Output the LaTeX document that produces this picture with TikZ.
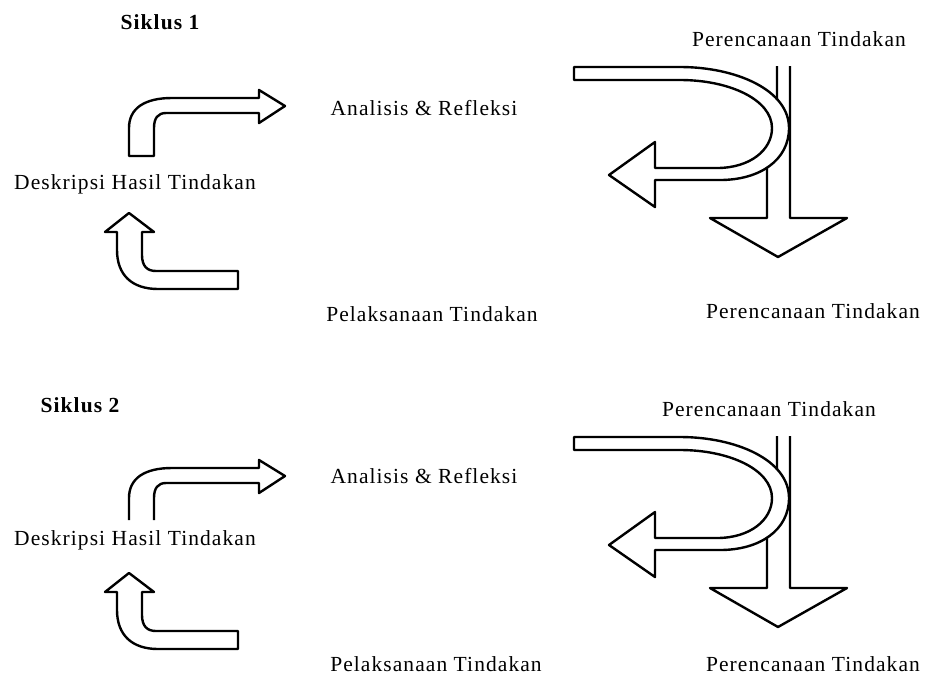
\documentclass[tikz,border=0pt]{standalone}
\usepackage{fontspec}
\setmainfont{Liberation Serif}[LetterSpace=5]
\newcommand{\lblfont}{\fontsize{21.5}{25}\selectfont}
\begin{document}
\begin{tikzpicture}[x=1pt,y=-1pt]
\useasboundingbox (0,0) rectangle (926,678);
\tikzset{
  shp/.style={draw=black, fill=white, line width=2.4pt, line join=round},
  lbl/.style={anchor=base, inner sep=0pt, font=\lblfont},
  bentright/.pic={
    \draw[shp] (129,156) -- (129,128) .. controls (129,108) and (145,98) .. (172,98)
      -- (259,98) -- (259,90) -- (285,106) -- (259,123) -- (259,113) -- (166,113)
      .. controls (158,113) and (154,118) .. (154,128) -- (154,156) -- cycle;},
  bentup/.pic={
    \draw[shp] (129,213) -- (154,232) -- (142,232) -- (142,255)
      .. controls (142,266) and (147,271) .. (156,271) -- (238,271) -- (238,289)
      -- (158,289) .. controls (132,289) and (117,275) .. (117,250)
      -- (117,232) -- (105,232) -- cycle;},
  downarr/.pic={
    \draw[shp] (777,66) -- (777,150) -- (767,160) -- (767,218) -- (710,218)
      -- (778,257) -- (847,218) -- (790,218) -- (790,66);},
  uturn/.pic={
    \draw[shp] (574,67) -- (680,67) .. controls (736,67) and (789,90) .. (789,128)
      .. controls (789,160) and (760,180) .. (720,180) -- (655,180) -- (655,207)
      -- (609,175) -- (655,142) -- (655,168) -- (717,168)
      .. controls (750,168) and (772,150) .. (772,128)
      .. controls (772,100) and (730,80) .. (680,80) -- (574,80) -- cycle;}
}
% ---------------- Siklus 1 ----------------
\pic at (0,0) {bentright};
\pic at (0,0) {bentup};
\pic at (0,0) {downarr};
\pic at (0,0) {uturn};
\node[lbl] (s1title) at (160,29) {\bfseries Siklus 1};
\node[lbl] (s1pt) at (799,46.5) {Perencanaan Tindakan};
\node[lbl] (s1ar) at (424,115) {Analisis \& Refleksi};
\node[lbl] (s1dh) at (135,189) {Deskripsi Hasil Tindakan};
\node[lbl] (s1pl) at (432,321) {Pelaksanaan Tindakan};
\node[lbl] (s1pb) at (813,318) {Perencanaan Tindakan};
% ---------------- Siklus 2 ----------------
\draw[shp] (129,520) -- (129,498) .. controls (129,478) and (145,468) .. (172,468)
  -- (259,468) -- (259,460) -- (285,476) -- (259,493) -- (259,483) -- (166,483)
  .. controls (158,483) and (154,488) .. (154,498) -- (154,520);
\pic at (0,360) {bentup};
\pic at (0,370) {downarr};
\pic at (0,370) {uturn};
\node[lbl] (s2title) at (80,412) {\bfseries Siklus 2};
\node[lbl] (s2pt) at (769,416.5) {Perencanaan Tindakan};
\node[lbl] (s2ar) at (424,483) {Analisis \& Refleksi};
\node[lbl] (s2dh) at (135,545) {Deskripsi Hasil Tindakan};
\node[lbl] (s2pl) at (436,671) {Pelaksanaan Tindakan};
\node[lbl] (s2pb) at (813,671) {Perencanaan Tindakan};
\end{tikzpicture}
\end{document}
